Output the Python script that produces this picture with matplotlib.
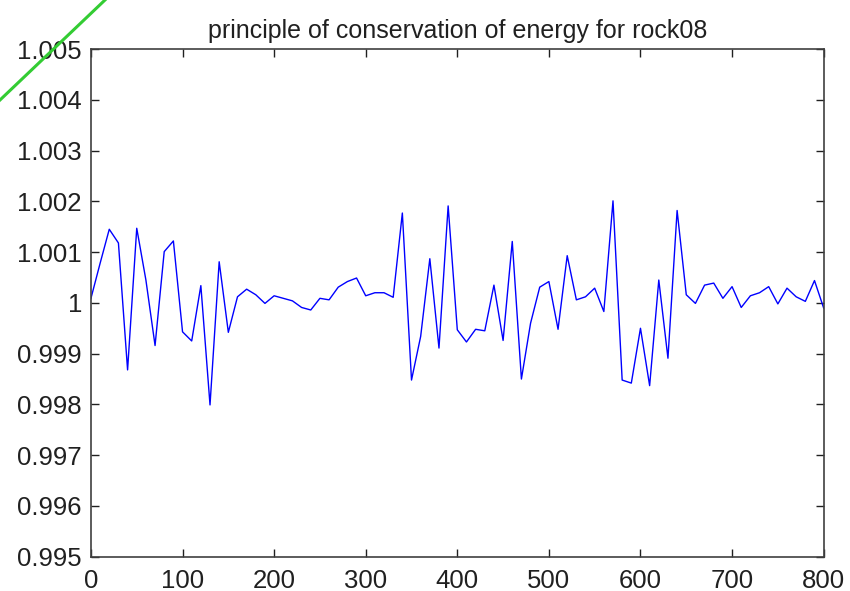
import numpy as np
import matplotlib.pyplot as plt
from matplotlib.lines import Line2D

# sample positions (every 10 steps) and energy ratio
steps = np.arange(0, 801, 10)
energy = [
    1.00009, 1.00078, 1.00145, 1.00118, 0.99868, 1.00147, 1.00045, 0.99916, 1.00101, 1.00122,
    0.99943, 0.99925, 1.00034, 0.99799, 1.00081, 0.99942, 1.00012, 1.00027, 1.00016, 0.99999,
    1.00014, 1.00009, 1.00004, 0.99991, 0.99986, 1.00009, 1.00006, 1.00031, 1.00042, 1.00049,
    1.00014, 1.00020, 1.00020, 1.00011, 1.00177, 0.99848, 0.99934, 1.00087, 0.99911, 1.00191,
    0.99947, 0.99923, 0.99948, 0.99945, 1.00035, 0.99926, 1.00121, 0.99850, 0.99960, 1.00031,
    1.00042, 0.99948, 1.00093, 1.00006, 1.00012, 1.00029, 0.99983, 1.00201, 0.99848, 0.99842,
    0.99950, 0.99837, 1.00045, 0.99891, 1.00182, 1.00016, 0.99999, 1.00035, 1.00039, 1.00009,
    1.00032, 0.99991, 1.00014, 1.00020, 1.00032, 0.99998, 1.00029, 1.00012, 1.00003, 1.00044,
    0.99990,
]
yticks = [0.995, 0.996, 0.997, 0.998, 0.999, 1.0, 1.001, 1.002, 1.003, 1.004, 1.005]
ytick_labels = ["0.995", "0.996", "0.997", "0.998", "0.999", "1",
                "1.001", "1.002", "1.003", "1.004", "1.005"]

plt.rcParams["font.family"] = ["Liberation Sans", "DejaVu Sans"]

fig = plt.figure(figsize=(8.5, 5.91), dpi=100)
ax = fig.add_axes([0.107, 0.058, 0.862, 0.859])

ax.plot(steps, energy, color="#0000ff", linewidth=1.0)

ax.set_xlim(0, 800)
ax.set_ylim(0.995, 1.005)
ax.set_xticks(np.arange(0, 801, 100))
ax.set_yticks(yticks)
ax.set_yticklabels(ytick_labels)
ax.tick_params(direction="in", length=6, width=1, top=True, right=True,
               labelsize=18.5, colors="#202020")
ax.tick_params(axis="x", pad=8.5)
ax.tick_params(axis="y", pad=6.5)
for s in ax.spines.values():
    s.set_linewidth(1.2)
    s.set_color("#404040")

ax.set_title("principle of conservation of energy for rock08", fontsize=18,
             color="#202020", pad=8)

# green stroke in the top-left corner of the screenshot
fig.add_artist(Line2D([0.0, 105 / 850], [1 - 100 / 591, 1.0], transform=fig.transFigure,
                      color="#33cc33", linewidth=2.2))

fig.savefig("out.png", dpi=100)
